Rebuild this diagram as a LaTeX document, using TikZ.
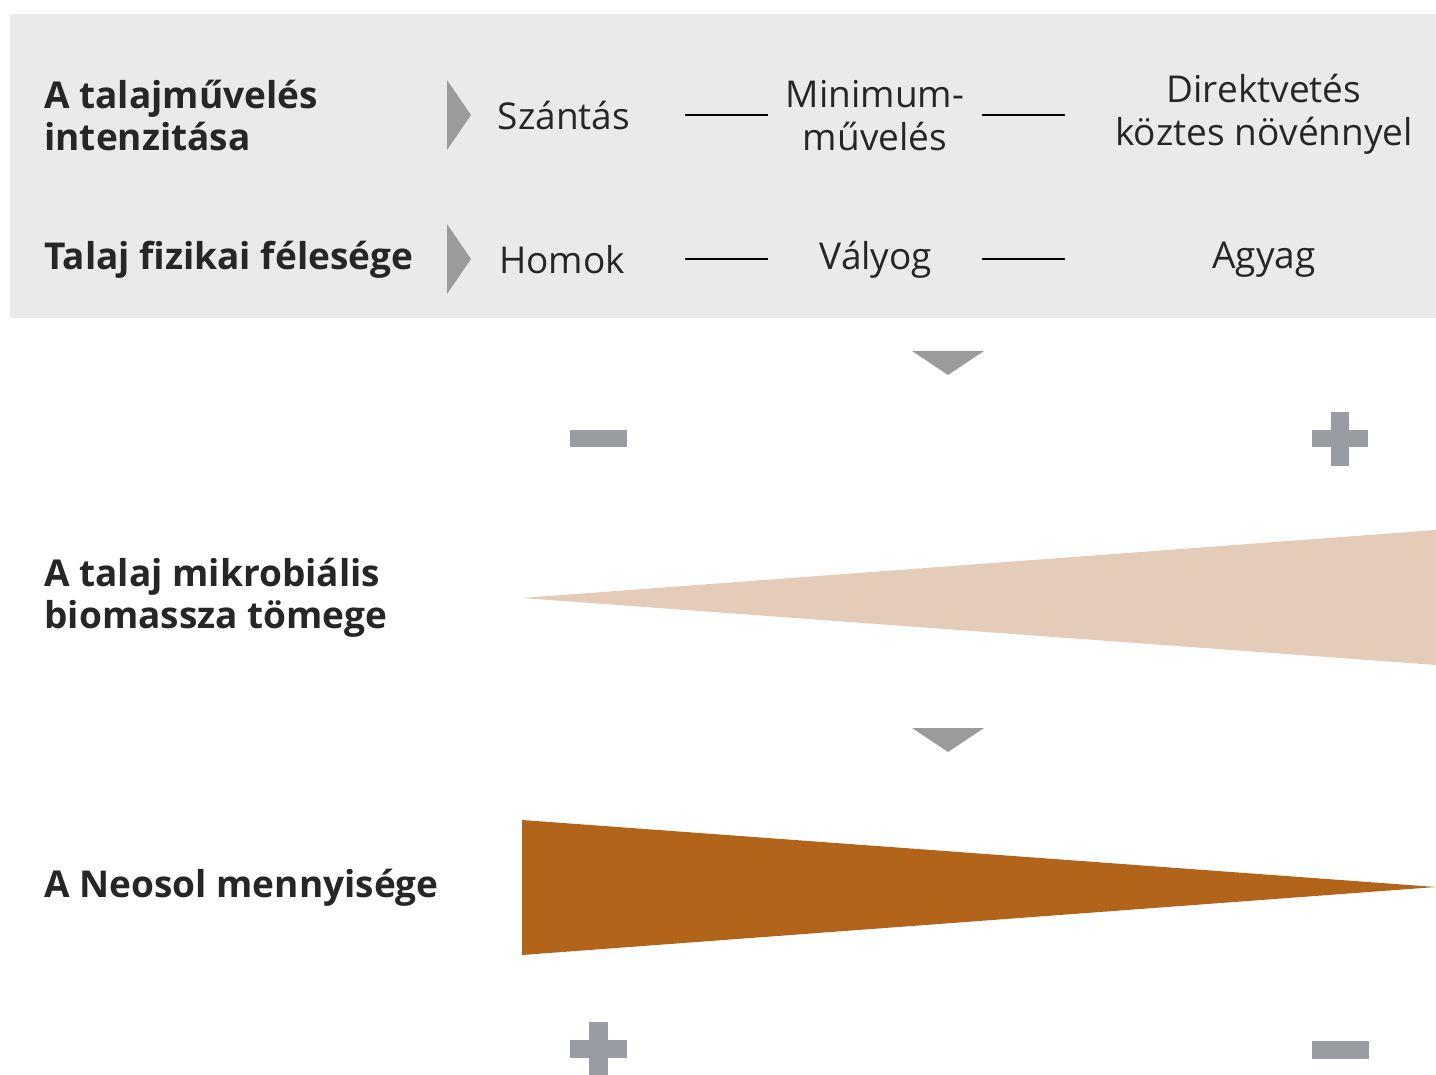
\documentclass[tikz,border=0pt]{standalone}
\usepackage{fontspec}
\setmainfont{Open Sans}
\definecolor{panelgray}{HTML}{E9EAEC}
\definecolor{arrowgray}{HTML}{9B9B9B}
\definecolor{signgray}{HTML}{999CA3}
\definecolor{txtdark}{HTML}{262626}
\definecolor{tanfill}{HTML}{E4CCB9}
\definecolor{brownfill}{HTML}{B2651A}

\begin{document}
\begin{tikzpicture}[x=0.5pt,y=-0.5pt,
  every node/.style={inner sep=0pt,text=txtdark},
  heading/.style={anchor=west,align=left,font=\fontsize{18.5}{21}\selectfont\bfseries},
  item/.style={align=center,font=\fontsize{18.5}{21.5}\selectfont},
  link/.style={line width=1pt,black},
  chevron/.style={fill=arrowgray},
  sign/.style={fill=signgray}]
\useasboundingbox (0,0) rectangle (1436,1075);
\fill[panelgray] (10,14) rectangle (1436,318);

% upper panel
\node[heading] (tillage) at (44,116) {A talajművelés\\intenzitása};
\node[heading] (texture) at (44,260) {Talaj fizikai félesége};
\fill[chevron] (447,80) -- (471,115) -- (447,150) -- cycle;
\fill[chevron] (447,224) -- (471,259) -- (447,294) -- cycle;

\node[item] (plough) at (564,116) {Szántás};
\node[item] (minimum) at (875,116) {Minimum-\\művelés};
\node[item] (direct) at (1264,114) {Direktvetés\\köztes növénnyel};
\node[item] (sand) at (562,260) {Homok};
\node[item] (loam) at (876,260) {Vályog};
\node[item] (clay) at (1264,260) {Agyag};

\coordinate (p1) at (685,115); \coordinate (p2) at (768,115);
\coordinate (p3) at (982,115); \coordinate (p4) at (1065,115);
\coordinate (s1) at (685,259); \coordinate (s2) at (768,259);
\coordinate (s3) at (982,259); \coordinate (s4) at (1065,259);
\draw[link] (p1) -- (p2);
\draw[link] (p3) -- (p4);
\draw[link] (s1) -- (s2);
\draw[link] (s3) -- (s4);

% microbial biomass
\fill[chevron] (912,351) -- (984,351) -- (948,375) -- cycle;
\fill[sign] (570,430) rectangle (627,447);
\fill[sign] (1312,430) rectangle (1368,447);
\fill[sign] (1331,412) rectangle (1349,466);
\node[heading] (biomass) at (44,598) {A talaj mikrobiális\\biomassza tömege};
\fill[tanfill] (522,598) -- (1436,530) -- (1436,665) -- cycle;

% neosol
\fill[chevron] (912,728) -- (984,728) -- (948,752) -- cycle;
\node[heading] (neosol) at (44,888) {A Neosol mennyisége};
\fill[brownfill] (522,820) -- (1436,887) -- (522,955) -- cycle;
\fill[sign] (570,1040) rectangle (627,1058);
\fill[sign] (589,1022) rectangle (608,1075);
\fill[sign] (1312,1041) rectangle (1369,1059);
\end{tikzpicture}
\end{document}
